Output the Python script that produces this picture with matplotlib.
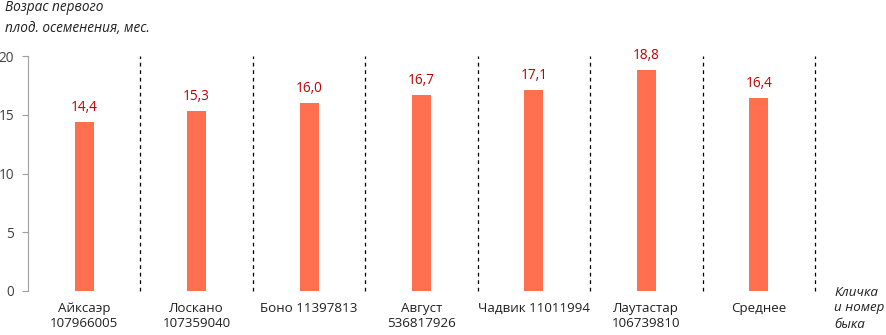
import matplotlib
matplotlib.use("Agg")
import matplotlib.pyplot as plt

categories = ["Айксаэр\n107966005", "Лоскано\n107359040", "Боно 11397813",
              "Август\n536817926", "Чадвик 11011994", "Лаутастар\n106739810", "Среднее"]
values = [14.4, 15.3, 16.0, 16.7, 17.1, 18.8, 16.4]
yticks = [0, 5, 10, 15, 20]

plt.rcParams['font.family'] = ['Open Sans', 'DejaVu Sans']
fig = plt.figure(figsize=(8.86, 3.35), dpi=100)
ax = fig.add_axes([28/886, 44/335, (815-28)/886, (291-56)/335])

x = list(range(len(categories)))
ax.bar(x, values, width=0.17, color="#FF6F50", zorder=2)
for xi, v in zip(x, values):
    ax.text(xi, v + 0.6, f"{v:.1f}".replace(".", ","), ha="center", va="bottom",
            color="#C00000", fontsize=9.8)
for xi in x:
    ax.plot([xi + 0.5, xi + 0.5], [0, 20], color="black", lw=0.9, ls=(0, (3, 3)),
            zorder=1, clip_on=False)

ax.set_xlim(-0.5, len(categories) - 0.5)
ax.set_ylim(0, 20)
ax.set_yticks(yticks)
ax.set_yticklabels([str(t) for t in yticks], fontsize=9.8, color="#404040")
ax.set_xticks(x)
ax.set_xticklabels(categories, fontsize=9.6, color="#202020", linespacing=1.2)
ax.tick_params(axis="x", length=0, pad=8)
ax.tick_params(axis="y", length=4, color="#A0A0A0", pad=6)
for s in ["top", "right", "bottom"]:
    ax.spines[s].set_visible(False)
ax.spines["left"].set_color("#A0A0A0")

fig.text(5/886, 1 - 18/335, "Возрас первого\nплод. осеменения, мес.", style="italic",
         fontsize=9.8, color="#202020", va="center", ha="left", linespacing=1.5)
fig.text(834/886, 1 - 308/335, "Кличка\nи номер\nбыка", style="italic",
         fontsize=9.6, color="#202020", va="center", ha="left", linespacing=1.3)

fig.savefig("out.png", dpi=100)
